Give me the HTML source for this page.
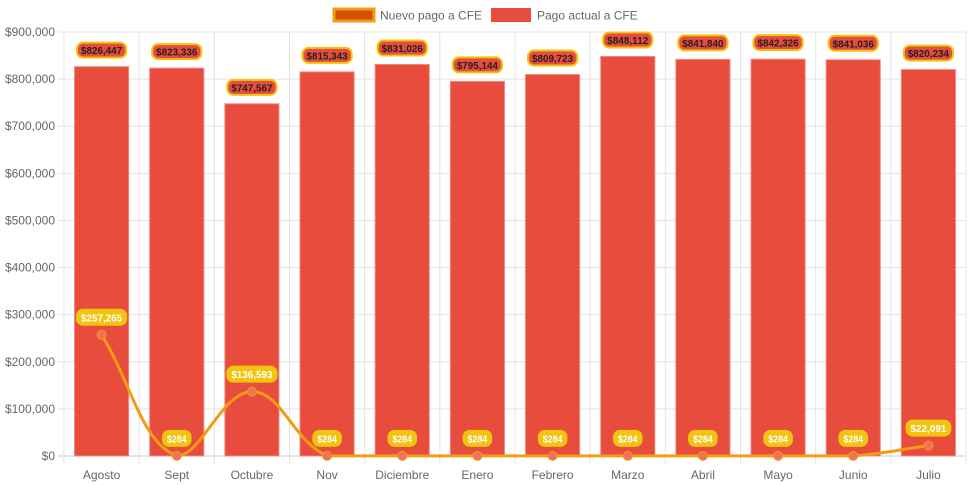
<!DOCTYPE html>
<html><head><meta charset="utf-8"><style>
body{margin:0;background:#fff;}
svg{display:block;font-family:"Liberation Sans",sans-serif;}
</style></head><body>
<svg id="c" width="971" height="485"></svg>
<script>
const categories=["Agosto","Sept","Octubre","Nov","Diciembre","Enero","Febrero","Marzo","Abril","Mayo","Junio","Julio"];
const barValues=[826447,823336,747567,815343,831026,795144,809723,848112,841840,842326,841036,820234];
const lineValues=[257265,284,136593,284,284,284,284,284,284,284,284,22091];
const yTicks=[0,100000,200000,300000,400000,500000,600000,700000,800000,900000];
const NS="http://www.w3.org/2000/svg";
const svg=document.getElementById('c');
const L=64,R=966,T=32,B=456,yMax=900000;
const cw=(R-L)/categories.length;
const xc=i=>L+cw*(i+0.5);
const y=v=>B-(v/yMax)*(B-T);
const fmt=v=>'$'+v.toLocaleString('en-US');
function mk(tag,attrs,parent){const e=document.createElementNS(NS,tag);for(const k in attrs)e.setAttribute(k,attrs[k]);(parent||svg).appendChild(e);return e;}
const grid=mk('g',{});


yTicks.forEach(t=>{
  mk('line',{x1:L-6,x2:R,y1:y(t),y2:y(t),stroke:t===0?'#ccc':'#e4e4e4','stroke-width':1},grid);
  const tx=mk('text',{x:L-9,y:y(t)+4,'text-anchor':'end','font-size':12,fill:'#666'},svg);
  tx.textContent=fmt(t);
  
  
});
for(let i=0;i<=categories.length;i++){
  mk('line',{x1:L+cw*i,x2:L+cw*i,y1:T,y2:B+8,stroke:'#e4e4e4','stroke-width':1},grid);
}
categories.forEach((c,i)=>{
  const tx=mk('text',{x:xc(i),y:479,'text-anchor':'middle','font-size':12,fill:'#666'});
  tx.textContent=c;
  
  
});
const bw=cw*0.72;
barValues.forEach((v,i)=>{
  const r=mk('rect',{x:xc(i)-bw/2,y:y(v),width:bw,height:B-y(v),fill:'#e74c3c',stroke:'#f08a80','stroke-width':1});
  
  
});
const pts=lineValues.map((v,i)=>[xc(i),y(v)]);
let d='M'+pts[0][0]+','+pts[0][1];
const tension=0.4;
function cps(i){
  const p=pts[Math.max(i-1,0)],c=pts[i],n=pts[Math.min(i+1,pts.length-1)];
  const d01=Math.hypot(c[0]-p[0],c[1]-p[1]),d12=Math.hypot(n[0]-c[0],n[1]-c[1]);
  let s01=d01/(d01+d12||1),s12=d12/(d01+d12||1);
  const fa=tension*s01,fb=tension*s12;
  return {prev:[c[0]-fa*(n[0]-p[0]),Math.min(B,c[1]-fa*(n[1]-p[1]))],next:[c[0]+fb*(n[0]-p[0]),Math.min(B,c[1]+fb*(n[1]-p[1]))]};
}
const C=pts.map((_,i)=>cps(i));
for(let i=1;i<pts.length;i++){
  d+=' C'+C[i-1].next.join(',')+' '+C[i].prev.join(',')+' '+pts[i].join(',');
}
const ln=mk('path',{d:d,fill:'none',stroke:'#f39c12','stroke-width':3});


pts.forEach((p,i)=>{
  const c=mk('circle',{cx:p[0],cy:p[1],r:4.5,fill:'#f0725c',stroke:'#f39c12','stroke-width':1});
  
  
});
function label(xp,yp,text,bg,border,color,name){
  const g=mk('g',{});
  
  
  const w=text.length*5.4+6;
  mk('rect',{x:xp-w/2,y:yp-8,width:w,height:15,rx:6,fill:bg,stroke:border,'stroke-width':2},g);
  const t=mk('text',{x:xp,y:yp+3.5,'text-anchor':'middle','font-size':10,'font-weight':'bold',fill:color,textLength:w-8,lengthAdjust:'spacingAndGlyphs'},g);
  t.textContent=text;
}
barValues.forEach((v,i)=>label(xc(i),y(v)-16,fmt(v),'#e74c3c','#f1c40f','#222','bar-value-label'));
lineValues.forEach((v,i)=>label(xc(i),y(v)-17,fmt(v),'#f1c40f','#f1c40f','#fff','line-value-label'));
const lg=mk('g',{});


const l1=mk('rect',{x:334,y:9,width:40,height:12,fill:'#d35400',stroke:'#f39c12','stroke-width':3},lg);


const t1=mk('text',{x:380,y:19.5,'font-size':12,fill:'#666'},lg);t1.textContent='Nuevo pago a CFE';


const l2=mk('rect',{x:491,y:8,width:40,height:14,fill:'#e74c3c'},lg);


const t2=mk('text',{x:537,y:19.5,'font-size':12,fill:'#666'},lg);t2.textContent='Pago actual a CFE';


</script>
</body></html>
